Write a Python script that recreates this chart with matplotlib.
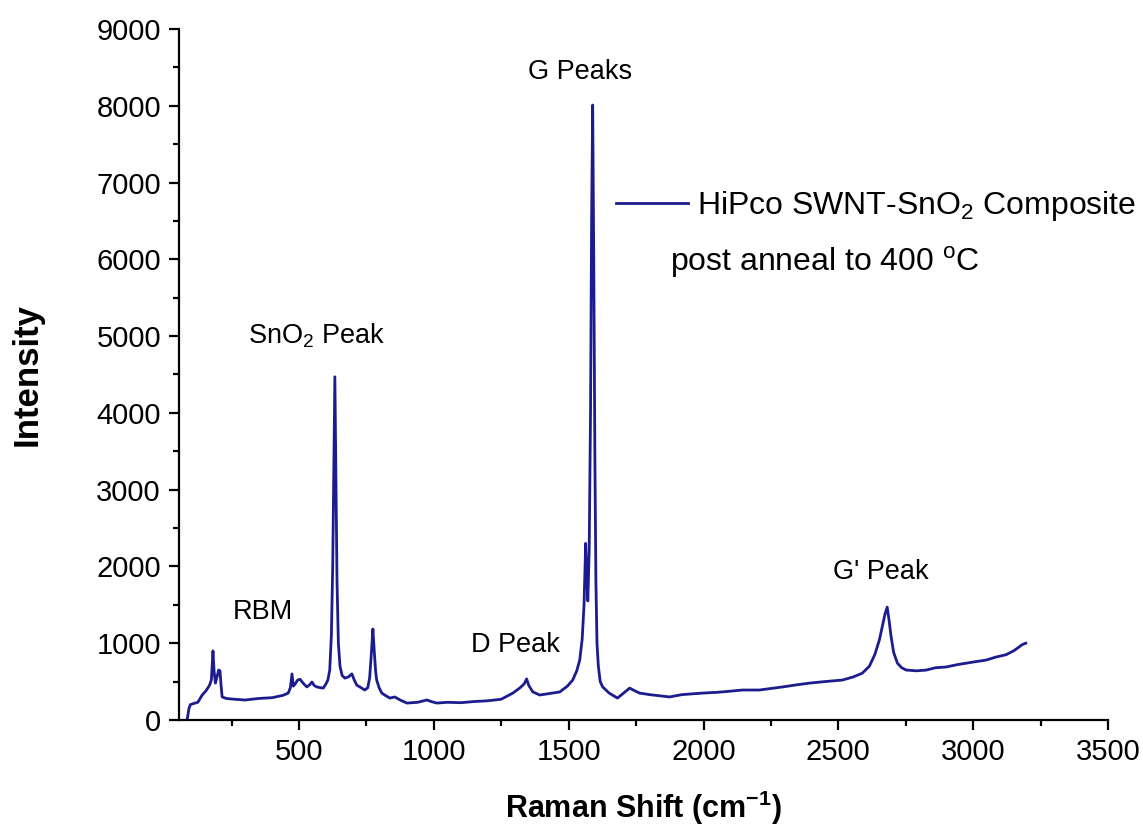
import matplotlib
matplotlib.use("Agg")

import matplotlib.pyplot as plt
from matplotlib.ticker import MultipleLocator

plt.rcParams["font.family"] = ["Liberation Sans", "DejaVu Sans"]
plt.rcParams["mathtext.fontset"] = "custom"
plt.rcParams["mathtext.rm"] = "Liberation Sans"
plt.rcParams["mathtext.bf"] = "Liberation Sans:bold"

# spectrum
raman_shift = [85, 92, 97, 110, 125, 140, 155, 168, 175, 181, 185, 190, 196, 202, 207, 211, 215,
               230, 260, 300, 350, 400, 440, 460, 468, 474, 479, 486, 495, 504, 515, 529, 540,
               548, 556, 566, 580, 590, 600, 607, 614, 620, 625, 629, 633, 637, 641, 646, 652,
               660, 670, 683, 696, 705, 714, 730, 744, 755, 762, 768, 774, 779, 784, 788, 797,
               807, 820, 837, 855, 875, 900, 940, 974, 990, 1011, 1050, 1100, 1150, 1200, 1250,
               1293, 1320, 1335, 1344, 1352, 1367, 1393, 1430, 1467, 1495, 1515, 1530, 1541,
               1550, 1557, 1563, 1567, 1571, 1576, 1581, 1585, 1589, 1593, 1597, 1601, 1605,
               1610, 1617, 1626, 1650, 1681, 1700, 1726, 1745, 1763, 1800, 1874, 1920, 1996,
               2050, 2100, 2144, 2207, 2250, 2293, 2350, 2393, 2450, 2515, 2555, 2589, 2615,
               2635, 2652, 2665, 2673, 2681, 2688, 2695, 2705, 2719, 2735, 2752, 2790, 2826,
               2860, 2900, 2940, 2974, 3010, 3048, 3085, 3122, 3150, 3170, 3181, 3195]
intensity = [0, 150, 200, 215, 230, 320, 380, 450, 520, 900, 640, 480, 560, 650, 640, 450, 300,
             280, 270, 260, 280, 290, 320, 350, 420, 600, 440, 470, 520, 530, 480, 430, 460,
             495, 450, 430, 420, 415, 470, 520, 650, 1100, 2000, 3200, 4470, 3100, 1800, 1000, 700,
             580, 545, 560, 600, 520, 455, 420, 390, 420, 550, 850, 1185, 900, 640, 520, 420,
             350, 320, 285, 300, 260, 220, 230, 260, 240, 220, 230, 225, 240, 250, 270,
             350, 420, 470, 535, 450, 365, 325, 345, 365, 440, 520, 640, 780,
             1050, 1500, 2300, 1900, 1550, 2200, 4000, 6500, 8010, 6000, 3500, 1800, 1000,
             700, 500, 430, 350, 285, 340, 415, 380, 350, 330, 300, 330, 350,
             360, 375, 390, 390, 410, 430, 460, 480, 500, 520, 560, 610, 700,
             850, 1040, 1250, 1380, 1470, 1300, 1100, 880, 740, 680, 650, 640, 650,
             680, 690, 720, 740, 760, 780, 820, 850, 900, 950, 980, 1000]

peak_labels = ["G Peaks", "SnO$_2$ Peak", "RBM", "D Peak", "G' Peak"]
peak_label_x = [1541, 567, 367, 1304, 2659]
peak_label_y = [8440, 5000, 1400, 970, 1930]

line_color = "#1c1c8f"

fig = plt.figure(figsize=(11.43, 8.36), dpi=100)
ax = fig.add_axes([0.1566, 0.1388, 0.8128, 0.8265])

line, = ax.plot(raman_shift, intensity, color=line_color, lw=2)

for txt, x, y in zip(peak_labels, peak_label_x, peak_label_y):
    ax.text(x, y, txt, ha="center", va="center", fontsize=19.5)

ax.set_xlim(55, 3500)
ax.set_ylim(0, 9000)
ax.xaxis.set_major_locator(MultipleLocator(500))
ax.xaxis.set_minor_locator(MultipleLocator(250))
ax.yaxis.set_major_locator(MultipleLocator(1000))
ax.yaxis.set_minor_locator(MultipleLocator(500))

for side in ["top", "right"]:
    ax.spines[side].set_visible(False)
for side in ["left", "bottom"]:
    ax.spines[side].set_linewidth(1.6)

ax.tick_params(which="major", direction="out", length=7, width=1.6, labelsize=21, pad=6)
ax.tick_params(which="minor", direction="out", length=4.5, width=1.6)

ax.set_xlabel("Raman Shift (cm$^{\\mathbf{-1}}$)", fontsize=22, fontweight="bold", labelpad=16)
ax.set_ylabel("Intensity", fontsize=25, fontweight="bold", labelpad=38)

leg = ax.legend([line], ["HiPco SWNT-SnO$_2$ Composite"], loc="center left",
                bbox_to_anchor=(616 / 1143, 1 - 206 / 836), bbox_transform=fig.transFigure,
                frameon=False, fontsize=23, borderpad=0, borderaxespad=0,
                handlelength=2.25, handletextpad=0.28)
fig.text(670 / 1143, 1 - 262 / 836, "post anneal to 400 $^{\\mathregular{o}}$C",
         ha="left", va="center", fontsize=23)

fig.savefig("out.png", dpi=100)
plt.close(fig)
